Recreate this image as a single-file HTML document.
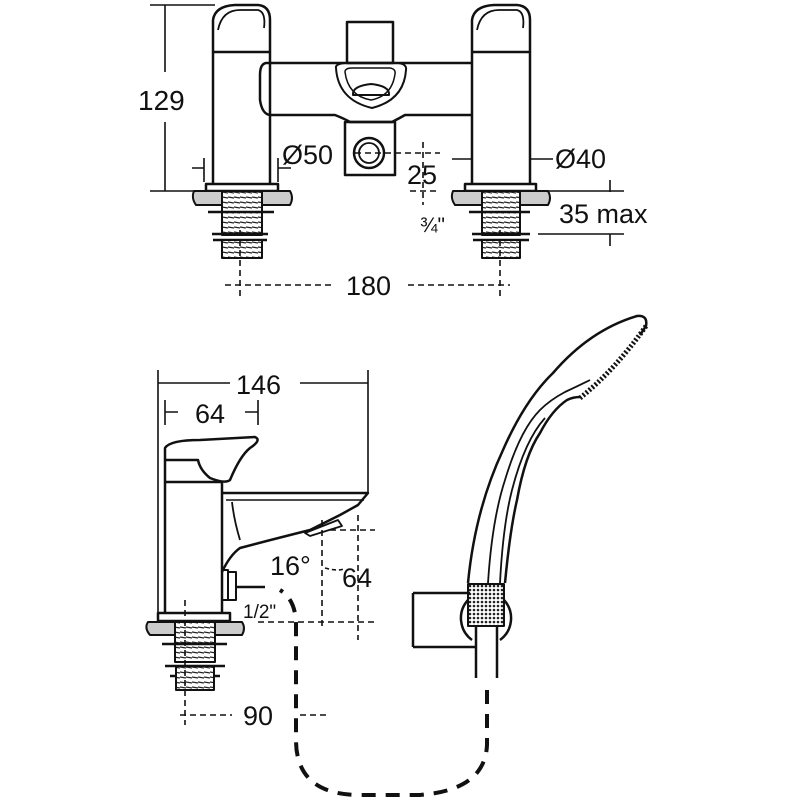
<!DOCTYPE html>
<html><head><style>body{margin:0;background:#fff}svg{display:block}text{font-family:"Liberation Sans",sans-serif;fill:#111}</style></head>
<body>
<svg width="800" height="800" viewBox="0 0 800 800" xmlns="http://www.w3.org/2000/svg">
<defs>
<pattern id="thr" width="6" height="5" patternUnits="userSpaceOnUse"><rect width="6" height="5" fill="#fff"/><path d="M0 2 L6 3" stroke="#222" stroke-width="1.2"/></pattern>
<pattern id="knurl" width="4" height="4" patternUnits="userSpaceOnUse"><rect width="4" height="4" fill="#fff"/><circle cx="2" cy="2" r="1.3" fill="#222"/></pattern>
</defs>
<g fill="none" stroke="#111" stroke-width="2.5" stroke-linejoin="round">
<path d="M213 185 V20 Q215 6 235 5 H258 Q270 6 270 20 V185"/>
<path d="M213 52 H270"/>
<path d="M218 30 Q222 10 240 10 H258 Q266 12 264 28" stroke-width="1.8"/>
<path d="M472 185 V20 Q474 6 494 5 H517 Q530 6 530 20 V185"/>
<path d="M472 52 H530"/>
<path d="M477 30 Q481 10 499 10 H517 Q525 12 523 28" stroke-width="1.8"/>
<path d="M270 63 H266 Q260 64 260 75 V100 Q262 114 270 115 H335 Q345 119 350 122 H392 Q398 119 405 115 H472 M472 63 H270"/>
<rect x="347" y="22" width="46" height="41"/>
<path d="M336 68 Q335 64 345 63 H398 Q407 64 406 70 Q404 100 372 108 Q338 100 336 68Z" stroke-width="2"/>
<path d="M345 72 Q345 68 352 68 H390 Q396 69 395 74 Q392 96 371 100 Q348 96 345 72Z" stroke-width="1.5"/>
<path d="M353 95 Q352 86 371 84 Q390 86 389 95 Z" stroke-width="2"/>
<rect x="345" y="122" width="50" height="53"/>
<circle cx="369" cy="153" r="15"/><circle cx="369" cy="153" r="10" stroke-width="1.8"/>
<rect x="206" y="184" width="72" height="7"/>
<rect x="465" y="184" width="71" height="7"/>
<path d="M194 191 H222 V205 H196 Q191 198 194 191Z M262 191 H290 Q294 198 290 205 H262Z" fill="#ccc" stroke-width="2"/>
<path d="M453 191 H482 V205 H455 Q450 198 453 191Z M520 191 H548 Q552 198 548 205 H520Z" fill="#ccc" stroke-width="2"/>
<rect x="222" y="191" width="40" height="44" fill="url(#thr)" stroke-width="2"/>
<rect x="482" y="191" width="38" height="44" fill="url(#thr)" stroke-width="2"/>
<path d="M208 212 H274 M212 234 H268 M213 240 H267 M469 212 H530 M472 234 H530 M473 240 H529"/>
<rect x="222" y="240" width="40" height="18" fill="url(#thr)" stroke-width="2"/>
<rect x="482" y="240" width="38" height="18" fill="url(#thr)" stroke-width="2"/>
</g>
<g fill="none" stroke="#111" stroke-width="1.6">
<path d="M165 5 V72 M165 122 V191 M150 5 H215 M150 191 H205"/>
<path d="M204 158 V182 M278 158 V182 M192 168 H204 M278 168 H291"/>
<path d="M452 159 H472 M530 159 H553"/>
<path d="M610 180 V192 M610 234 V246 M538 234 H624 M540 191 H624"/>
<path d="M355 153 H440 M423 142 V205 M410 191 H440" stroke-dasharray="6 4"/>
<path d="M225 285 H335 M408 285 H510 M240 230 V300 M500 230 V300" stroke-dasharray="6 4"/>
</g>
<text x="138" y="110" font-size="28">129</text>
<text x="282" y="164" font-size="27">Ø50</text>
<text x="555" y="168" font-size="27">Ø40</text>
<text x="407" y="184" font-size="27">25</text>
<text x="420" y="232" font-size="21">¾"</text>
<text x="559" y="223" font-size="27">35 max</text>
<text x="346" y="295" font-size="27">180</text>

<g fill="none" stroke="#111" stroke-width="2.5" stroke-linejoin="round">
<path d="M165 612 V448 Q170 440 200 440 L255 437 Q262 440 250 448 Q240 456 230 480 Q225 484 210 478 Q200 470 198 460 L165 460"/>
<path d="M165 482 H222 V612"/>
<path d="M222 493 H368 L358 505 L340 515 L310 530 Q270 540 240 548 Q230 555 222 572"/>
<path d="M226 500 H364" stroke-width="1.5"/>
<path d="M232 502 Q234 520 240 540" stroke-width="1.8"/>
<path d="M305 533 L338 520 L342 526 L310 536 Z" stroke-width="1.8"/>
<path d="M222 570 H228 V600 H222 M228 572 H236 V600 H228" stroke-width="2"/>
<path d="M236 587 H265"/>
<rect x="158" y="613" width="72" height="8"/>
<path d="M148 622 H175 V635 H150 Q144 628 148 622Z M215 622 H242 Q246 628 242 635 H215Z" fill="#ccc" stroke-width="2"/>
<rect x="175" y="622" width="40" height="40" fill="url(#thr)" stroke-width="2"/>
<path d="M162 644 H227 M165 666 H225 M170 676 H220"/>
<rect x="176" y="666" width="38" height="24" fill="url(#thr)" stroke-width="2"/>
<path d="M468 583 Q475 510 503 450 Q525 400 553 373 Q590 330 637 316 Q648 315 646 326 L640 335"/>
<path d="M505 583 Q510 530 517 500 Q525 455 540 433 Q552 410 567 400 Q573 397 580 397"/>
<path d="M488 583 Q492 520 505 480 Q520 430 540 410 Q550 400 565 392 Q580 385 590 380" stroke-width="1.8"/>
<path d="M500 583 Q503 525 512 490 Q525 440 545 418" stroke-width="1.8"/>
<path d="M580 398 Q615 370 646 326" stroke="#111" stroke-width="5" stroke-dasharray="2 2"/>
<rect x="468" y="584" width="36" height="42" fill="url(#knurl)" stroke-width="2"/>
<path d="M413 593 H470 M413 647 H475 M413 593 V647"/>
<path d="M468 600 A27 27 0 0 0 472 640 M504 600 A27 27 0 0 1 500 640"/>
<path d="M476 626 V678 M497 626 V678"/>
<path d="M487 690 V745 Q485 790 420 795 H360 Q296 795 296 740 V625 Q296 600 280 590" stroke-width="4" stroke-dasharray="14 10"/>
</g>
<g fill="none" stroke="#111" stroke-width="1.6">
<path d="M158 370 V612 M368 370 V492 M158 383 H230 M300 383 H368"/>
<path d="M165 400 V425 M258 400 V425 M165 412 H178 M245 412 H258"/>
<path d="M322 520 V630 M358 515 V640 M330 530 H375 M258 622 H375" stroke-dasharray="6 4"/>
<path d="M185 600 V725 M180 715 H232 M300 715 H330" stroke-dasharray="6 4"/>
<path d="M325 568 Q340 572 345 568" stroke-dasharray="4 3"/>
</g>
<text x="236" y="394" font-size="27">146</text>
<text x="195" y="423" font-size="27">64</text>
<text x="270" y="575" font-size="27">16°</text>
<text x="342" y="587" font-size="27">64</text>
<text x="243" y="618" font-size="19">1/2"</text>
<text x="243" y="725" font-size="27">90</text>
</svg>
</body></html>
